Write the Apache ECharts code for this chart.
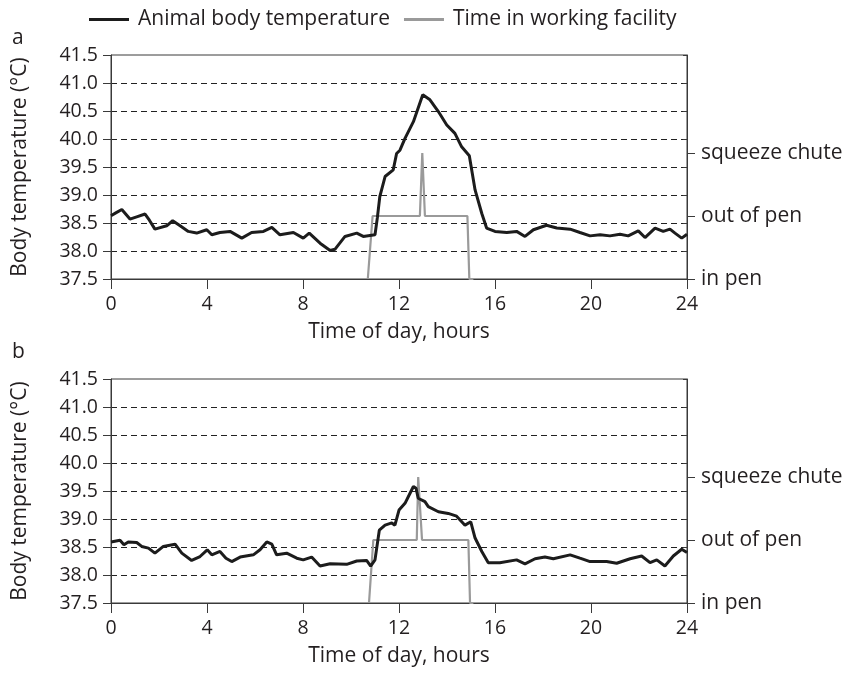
<!DOCTYPE html>
<html>
<head>
<meta charset="utf-8">
<script src="https://cdn.jsdelivr.net/npm/echarts@6/dist/echarts.min.js"></script>
<style>
  html, body { margin: 0; padding: 0; background: #fff; }
  #chart { width: 850px; height: 677px; }
</style>
</head>
<body>
<div id="chart"></div>
<script>
// hours of day, x ticks
const hourTicks = [0, 4, 8, 12, 16, 20, 24]
const facilityLabels = ['in pen', 'out of pen', 'squeeze chute']

// panel a: [hour, body temperature °C]
const tempA = [
  [0, 38.63], [0.2, 38.68], [0.45, 38.74], [0.79, 38.57], [1.07, 38.61], [1.42, 38.66], [1.6, 38.55],
  [1.83, 38.39], [2.32, 38.45], [2.57, 38.54], [2.88, 38.45], [3.22, 38.35], [3.57, 38.32], [3.99, 38.38],
  [4.2, 38.29], [4.54, 38.33], [4.96, 38.35], [5.45, 38.23], [5.86, 38.33], [6.35, 38.35], [6.7, 38.42],
  [7.04, 38.29], [7.6, 38.33], [8.01, 38.23], [8.26, 38.32], [8.71, 38.14], [9.13, 38.01], [9.33, 38.03],
  [9.75, 38.26], [10.24, 38.32], [10.51, 38.26], [11.0, 38.29], [11.1, 38.6], [11.2, 38.97], [11.42, 39.33],
  [11.76, 39.45], [11.9, 39.74], [12.04, 39.8], [12.25, 40.01], [12.6, 40.31], [12.99, 40.79], [13.29, 40.7],
  [13.64, 40.49], [13.99, 40.25], [14.33, 40.1], [14.61, 39.86], [14.93, 39.7], [15.17, 39.09], [15.45, 38.67],
  [15.65, 38.41], [16.0, 38.35], [16.49, 38.33], [16.9, 38.35], [17.25, 38.26], [17.6, 38.38], [18.15, 38.46],
  [18.57, 38.41], [19.13, 38.39], [19.54, 38.33], [19.96, 38.27], [20.38, 38.29], [20.79, 38.27], [21.21, 38.3],
  [21.55, 38.27], [21.97, 38.36], [22.25, 38.24], [22.67, 38.41], [23.01, 38.35], [23.29, 38.39], [23.5, 38.32],
  [23.78, 38.23], [24, 38.3]
]
// panel a: [hour, 0 in pen / 1 out of pen / 2 squeeze chute]
const facilityA = [
  [10.7, 0], [10.76, 0], [10.9, 1], [12.87, 1], [12.97, 2], [13.01, 2], [13.08, 1], [14.85, 1], [14.93, 0], [15.1, 0]
]

// panel b
const tempB = [
  [0, 38.59], [0.375, 38.62], [0.54, 38.54], [0.72, 38.59], [1.07, 38.58], [1.28, 38.51], [1.56, 38.48],
  [1.83, 38.39], [2.18, 38.51], [2.67, 38.55], [2.95, 38.39], [3.36, 38.26], [3.71, 38.33], [4.01, 38.45],
  [4.2, 38.36], [4.54, 38.42], [4.79, 38.3], [5.03, 38.24], [5.38, 38.32], [5.93, 38.36], [6.21, 38.45],
  [6.49, 38.59], [6.7, 38.55], [6.9, 38.36], [7.32, 38.39], [7.74, 38.3], [8.01, 38.27], [8.36, 38.32],
  [8.71, 38.16], [9.13, 38.2], [9.82, 38.19], [10.24, 38.25], [10.65, 38.26], [10.82, 38.16], [11.0, 38.27],
  [11.18, 38.8], [11.42, 38.89], [11.7, 38.93], [11.83, 38.89], [12.0, 39.16], [12.25, 39.28], [12.46, 39.46],
  [12.6, 39.58], [12.71, 39.55], [12.8, 39.37], [13.08, 39.31], [13.22, 39.22], [13.64, 39.13], [14.05, 39.1],
  [14.4, 39.05], [14.75, 38.89], [14.99, 38.95], [15.17, 38.66], [15.45, 38.42], [15.72, 38.22], [16.2, 38.22],
  [16.9, 38.27], [17.25, 38.2], [17.67, 38.29], [18.08, 38.32], [18.43, 38.29], [19.13, 38.36], [19.54, 38.3],
  [19.96, 38.24], [20.65, 38.24], [21.07, 38.21], [21.63, 38.29], [22.11, 38.34], [22.46, 38.22], [22.74, 38.27],
  [23.08, 38.16], [23.43, 38.34], [23.78, 38.46], [24, 38.4]
]
const facilityB = [
  [10.75, 0], [10.82, 0], [10.93, 1], [12.74, 1], [12.8, 2], [12.87, 2], [12.96, 1], [14.89, 1], [14.96, 0], [15.1, 0]
]

const textColor = '#231f20'
const axisColor = '#3a3a3a'
const font = 'Open Sans'

function xAxisFor (gridIndex) {
  return {
    type: 'value',
    gridIndex: gridIndex,
    min: hourTicks[0],
    max: hourTicks[hourTicks.length - 1],
    interval: 4,
    name: 'Time of day, hours',
    nameLocation: 'middle',
    nameGap: 43,
    nameTextStyle: { fontSize: 21, color: textColor, fontFamily: font },
    axisLine: { lineStyle: { color: axisColor, width: 1 } },
    axisTick: { length: 10, lineStyle: { color: axisColor } },
    axisLabel: { fontSize: 19.5, color: textColor, fontFamily: font, margin: 15 },
    splitLine: { show: false }
  }
}

function tempAxisFor (gridIndex) {
  return {
    type: 'value',
    gridIndex: gridIndex,
    min: 37.5,
    max: 41.5,
    interval: 0.5,
    name: 'Body temperature (°C)',
    nameLocation: 'middle',
    nameGap: 80,
    nameTextStyle: { fontSize: 21, color: textColor, fontFamily: font },
    axisLine: { show: true, lineStyle: { color: axisColor, width: 1 } },
    axisTick: { show: true, length: 8, lineStyle: { color: axisColor } },
    axisLabel: {
      fontSize: 19.5, color: textColor, fontFamily: font, margin: 13,
      formatter: v => v.toFixed(1)
    },
    splitLine: {
      show: true,
      showMinLine: false,
      showMaxLine: false,
      lineStyle: { color: '#222', width: 1, type: [6, 4] }
    }
  }
}

// small inward ticks on the right edge, one per 0.5 °C
function innerTickAxisFor (gridIndex) {
  return {
    type: 'value',
    gridIndex: gridIndex,
    position: 'right',
    min: 37.5,
    max: 41.5,
    interval: 0.5,
    axisLine: { show: false },
    axisTick: { show: true, inside: true, length: 4, lineStyle: { color: axisColor } },
    axisLabel: { show: false },
    splitLine: { show: false }
  }
}

function facilityAxisFor (gridIndex) {
  return {
    type: 'value',
    gridIndex: gridIndex,
    position: 'right',
    min: 0,
    max: 224 / 63,
    interval: 1,
    axisLine: { show: true, lineStyle: { color: axisColor, width: 1 } },
    axisTick: { show: true, length: 8, customValues: [0, 1, 2], lineStyle: { color: axisColor } },
    axisLabel: {
      fontSize: 21, color: textColor, fontFamily: font, margin: 14,
      customValues: [0, 1, 2],
      formatter: v => facilityLabels[Math.round(v)] || ''
    },
    splitLine: { show: false }
  }
}

const chart = echarts.init(document.getElementById('chart'))
chart.setOption({
  animation: false,
  textStyle: { fontFamily: font },
  title: [
    { text: 'a', left: 7, top: 23, textStyle: { fontSize: 21, fontWeight: 'normal', color: textColor, fontFamily: font } },
    { text: 'b', left: 7, top: 337, textStyle: { fontSize: 21, fontWeight: 'normal', color: textColor, fontFamily: font } }
  ],
  legend: {
    top: 4,
    left: 84,
    icon: 'rect',
    itemWidth: 40,
    itemHeight: 3,
    itemGap: 14,
    textStyle: { fontSize: 21, color: textColor, fontFamily: font, padding: [0, 0, 0, 4] },
    data: ['Animal body temperature', 'Time in working facility']
  },
  grid: [
    { left: 111, width: 576, top: 55, height: 224, show: true, borderColor: axisColor, borderWidth: 1, backgroundColor: 'transparent' },
    { left: 111, width: 576, top: 379, height: 224, show: true, borderColor: axisColor, borderWidth: 1, backgroundColor: 'transparent' }
  ],
  xAxis: [xAxisFor(0), xAxisFor(1)],
  yAxis: [
    tempAxisFor(0), facilityAxisFor(0), innerTickAxisFor(0),
    tempAxisFor(1), facilityAxisFor(1), innerTickAxisFor(1)
  ],
  series: [
    {
      name: 'Time in working facility', type: 'line', xAxisIndex: 0, yAxisIndex: 1,
      data: facilityA, symbol: 'none', lineStyle: { color: '#9a9a9a', width: 2.2 }, itemStyle: { color: '#9a9a9a' }
    },
    {
      name: 'Animal body temperature', type: 'line', xAxisIndex: 0, yAxisIndex: 0,
      data: tempA, symbol: 'none', lineStyle: { color: '#1c1c1c', width: 3 }, itemStyle: { color: '#1c1c1c' }
    },
    {
      name: 'Time in working facility', type: 'line', xAxisIndex: 1, yAxisIndex: 4,
      data: facilityB, symbol: 'none', lineStyle: { color: '#9a9a9a', width: 2.2 }, itemStyle: { color: '#9a9a9a' }
    },
    {
      name: 'Animal body temperature', type: 'line', xAxisIndex: 1, yAxisIndex: 3,
      data: tempB, symbol: 'none', lineStyle: { color: '#1c1c1c', width: 3 }, itemStyle: { color: '#1c1c1c' }
    }
  ]
})
</script>
</body>
</html>
